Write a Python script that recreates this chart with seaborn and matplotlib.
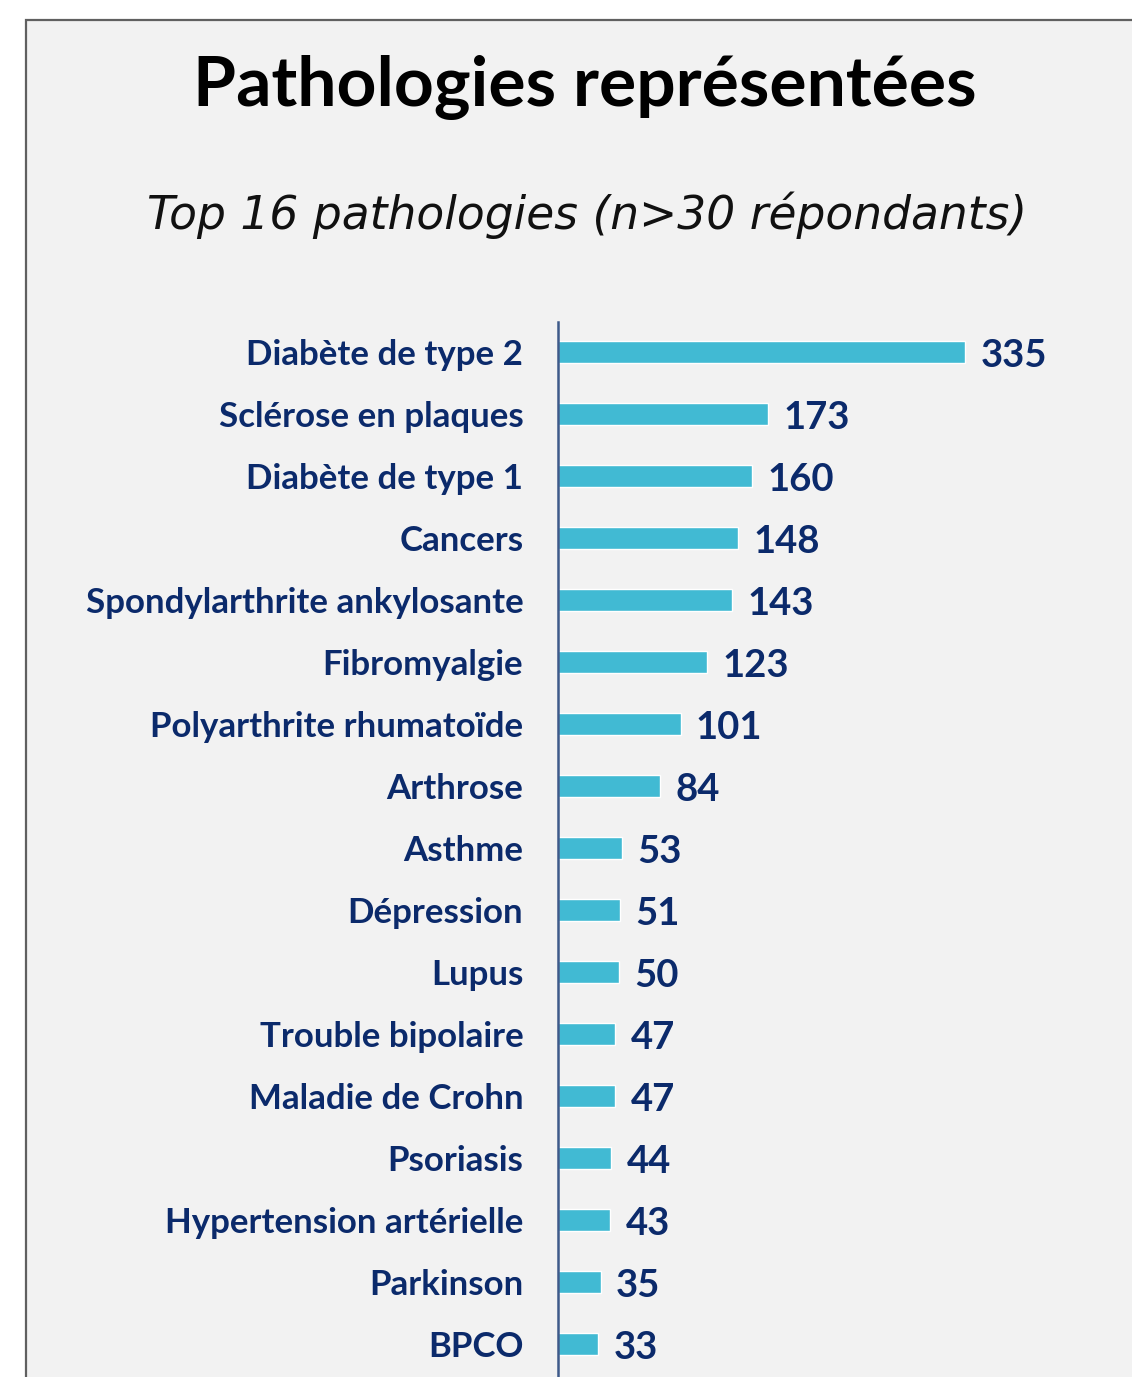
import matplotlib
matplotlib.use("Agg")
import matplotlib.pyplot as plt
import seaborn as sns
from matplotlib.patches import Rectangle

# Data
pathologies = [
    "Diabète de type 2", "Sclérose en plaques", "Diabète de type 1", "Cancers",
    "Spondylarthrite ankylosante", "Fibromyalgie", "Polyarthrite rhumatoïde",
    "Arthrose", "Asthme", "Dépression", "Lupus", "Trouble bipolaire",
    "Maladie de Crohn", "Psoriasis", "Hypertension artérielle", "Parkinson", "BPCO",
]
respondents = [335, 173, 160, 148, 143, 123, 101, 84, 53, 51, 50, 47, 47, 44, 43, 35, 33]

title = "Pathologies représentées"
subtitle = "Top 16 pathologies (n>30 répondants)"

bar_colour = "#41BAD3"
navy = "#0B2A6B"
panel_bg = "#F2F2F2"

sns.set_theme(style="white")
plt.rcParams["font.family"] = ["Lato", "DejaVu Sans"]

W, H = 1132, 1377
fig = plt.figure(figsize=(W / 100, H / 100), dpi=100, facecolor="white")

# grey panel with border on top and left (drawn behind the axes)
fig.patches.append(Rectangle((26 / W, -0.1), 2, 1.1 - 20 / H, transform=fig.transFigure,
                             facecolor=panel_bg, edgecolor="#606060", linewidth=1.6, zorder=-5))

fig.text(585 / W, 1 - 87 / H, title, ha="center", va="center",
         fontsize=50, fontweight="bold", color="black")
fig.text(587 / W, 1 - 215 / H, subtitle, ha="center", va="center",
         fontsize=32.8, fontstyle="italic", color="#111111", family="DejaVu Sans")

# plot area
ax = fig.add_axes([558 / W, 0, (1129 - 558) / W, (H - 322) / H])
ax.set_facecolor("none")
sns.barplot(x=respondents, y=pathologies, orient="h", color=bar_colour,
            saturation=1, width=0.35, ax=ax)
ax.set_xlim(0, 470)
ax.set_ylim(len(pathologies) - 0.47, -0.48)

for spine in ["top", "right", "bottom"]:
    ax.spines[spine].set_visible(False)
ax.spines["left"].set_color("#3E5A8A")
ax.spines["left"].set_linewidth(1.8)

ax.set_xticks([])
ax.set_xlabel("")
ax.set_ylabel("")
ax.tick_params(axis="y", length=0, pad=25)
for lab in ax.get_yticklabels():
    lab.set_fontsize(25.1)
    lab.set_fontweight("bold")
    lab.set_color(navy)

for i, v in enumerate(respondents):
    ax.annotate(str(v), xy=(v, i), xytext=(11, -3), textcoords="offset points",
                ha="left", va="center", fontsize=27.5, fontweight="bold", color=navy)

fig.savefig("out.png", dpi=100, facecolor="white")
